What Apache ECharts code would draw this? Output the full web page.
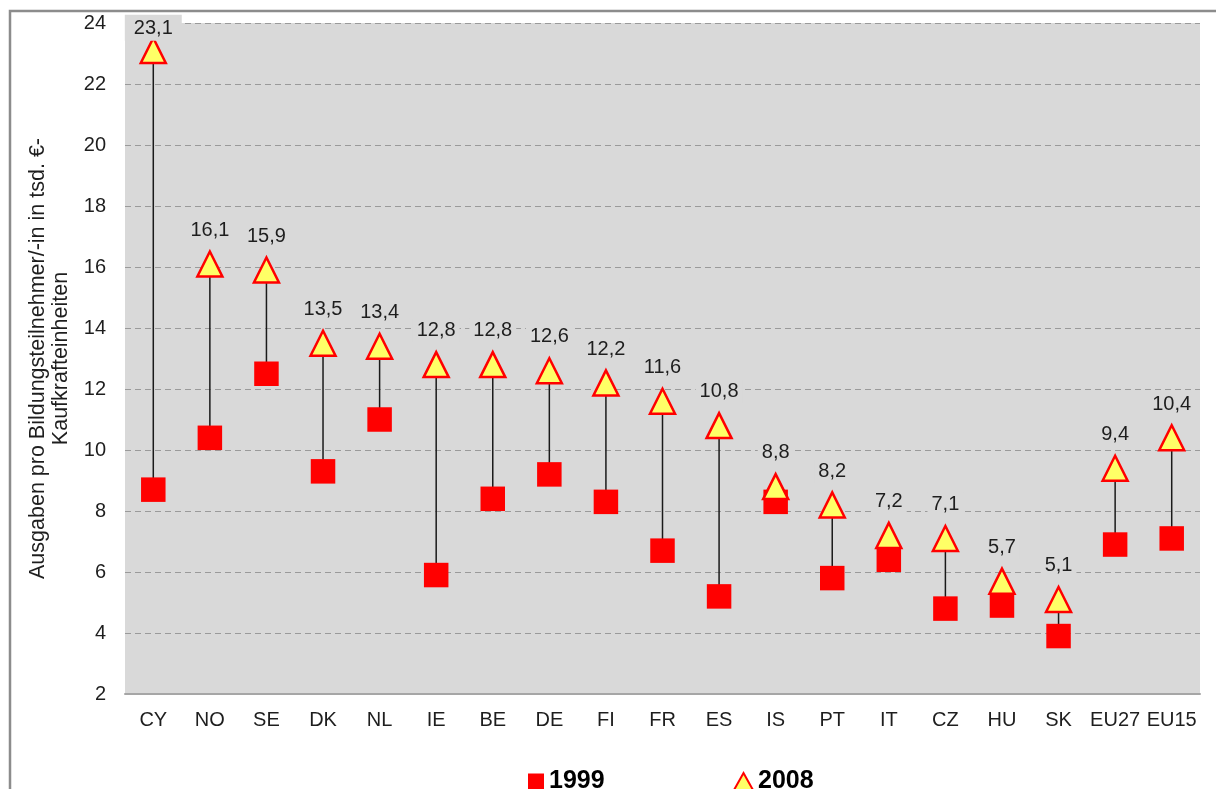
<!DOCTYPE html>
<html>
<head>
<meta charset="utf-8">
<script src="https://cdn.jsdelivr.net/npm/echarts@6/dist/echarts.min.js"></script>
<style>
  html, body { margin: 0; padding: 0; background: #ffffff; }
  #chart { width: 1216px; height: 789px; }
</style>
</head>
<body>
<div id="chart"></div>
<script>
// Ausgaben pro Bildungsteilnehmer/-in (tsd. € KKS), 1999 und 2008
const countries = ['CY', 'NO', 'SE', 'DK', 'NL', 'IE', 'BE', 'DE', 'FI', 'FR', 'ES', 'IS', 'PT', 'IT', 'CZ', 'HU', 'SK', 'EU27', 'EU15'];
const values1999 = [8.7, 10.4, 12.5, 9.3, 11.0, 5.9, 8.4, 9.2, 8.3, 6.7, 5.2, 8.3, 5.8, 6.4, 4.8, 4.9, 3.9, 6.9, 7.1];
const values2008 = [23.1, 16.1, 15.9, 13.5, 13.4, 12.8, 12.8, 12.6, 12.2, 11.6, 10.8, 8.8, 8.2, 7.2, 7.1, 5.7, 5.1, 9.4, 10.4];
const yTicks = { min: 2, max: 24, step: 2 };

const FONT = 'Liberation Sans, Arial, sans-serif';
const TEXT = '#1e1e1e';
const PLOT_BG = '#d9d9d9';

// the CY label sits a little lower so it stays inside the frame
const labelNudge = { CY: [0, 12] };

const chart = echarts.init(document.getElementById('chart'), null, { renderer: 'canvas' });

const data2008 = values2008.map((v, i) => {
  const item = { value: v };
  if (labelNudge[countries[i]]) {
    item.label = { offset: labelNudge[countries[i]], padding: [4, 9, 2, 9] };
  }
  return item;
});

const legendText = { fontFamily: FONT, fontSize: 25, fontWeight: 'bold', color: '#000' };

chart.setOption({
  backgroundColor: '#ffffff',
  animation: false,
  textStyle: { fontFamily: FONT },
  graphic: [{
    type: 'rect',
    silent: true,
    z: 100,
    shape: { x: 10, y: 11, width: 1400, height: 1000 },
    style: { fill: 'none', stroke: '#8c8c8c', lineWidth: 2.5 }
  }],
  grid: {
    left: 125, right: 16, top: 23, bottom: 95,
    show: true, backgroundColor: PLOT_BG, borderWidth: 0,
    outerBoundsMode: 'none'
  },
  legend: [
    {
      data: ['1999'],
      left: 528, top: 769, padding: 0,
      itemWidth: 16, itemHeight: 16, itemGap: 0,
      textStyle: legendText
    },
    {
      data: ['2008'],
      left: 733, top: 769, padding: 0,
      itemWidth: 19, itemHeight: 17, itemGap: 0,
      textStyle: legendText
    }
  ],
  xAxis: {
    type: 'category',
    data: countries,
    boundaryGap: true,
    axisLine: { lineStyle: { color: '#a6a6a6', width: 2 } },
    axisTick: { show: false },
    splitLine: { show: false },
    axisLabel: { interval: 0, margin: 16, fontSize: 20, color: TEXT, fontFamily: FONT }
  },
  yAxis: {
    type: 'value',
    min: yTicks.min, max: yTicks.max, interval: yTicks.step,
    name: 'Ausgaben pro Bildungsteilnehmer/-in in tsd. €-\nKaufkrafteinheiten',
    nameLocation: 'middle',
    nameRotate: 90,
    nameGap: 43,
    nameTextStyle: { fontSize: 21.5, lineHeight: 23, color: TEXT, fontFamily: FONT, align: 'center' },
    axisLine: { show: false },
    axisTick: { show: false },
    axisLabel: { margin: 19, fontSize: 20, color: TEXT, fontFamily: FONT },
    splitLine: { lineStyle: { color: '#9a9a9a', type: [6, 4], width: 1 } }
  },
  series: [
    {
      name: 'Spanne',
      type: 'custom',
      z: 1,
      silent: true,
      data: countries.map((c, i) => [i, values1999[i], values2008[i]]),
      encode: { x: 0, y: [1, 2] },
      renderItem: function (params, api) {
        const a = api.coord([api.value(0), api.value(1)]);
        const b = api.coord([api.value(0), api.value(2)]);
        return {
          type: 'line',
          shape: { x1: a[0], y1: a[1], x2: b[0], y2: b[1] },
          style: { stroke: '#1a1a1a', lineWidth: 1.5 }
        };
      }
    },
    {
      name: '1999',
      type: 'scatter',
      z: 2,
      symbol: 'rect',
      symbolSize: 24.5,
      itemStyle: { color: '#ff0000', opacity: 1 },
      data: values1999
    },
    {
      name: '2008',
      type: 'scatter',
      z: 3,
      symbol: 'triangle',
      symbolSize: [25, 25],
      itemStyle: { color: '#ffff66', borderColor: '#ff0000', borderWidth: 2.5, opacity: 1 },
      label: {
        show: true,
        position: 'top',
        distance: 8,
        fontSize: 20,
        lineHeight: 20,
        color: TEXT,
        fontFamily: FONT,
        backgroundColor: PLOT_BG,
        padding: [2, 4, 2, 4],
        formatter: p => p.value.toFixed(1).replace('.', ',')
      },
      data: data2008
    }
  ]
});
</script>
</body>
</html>
